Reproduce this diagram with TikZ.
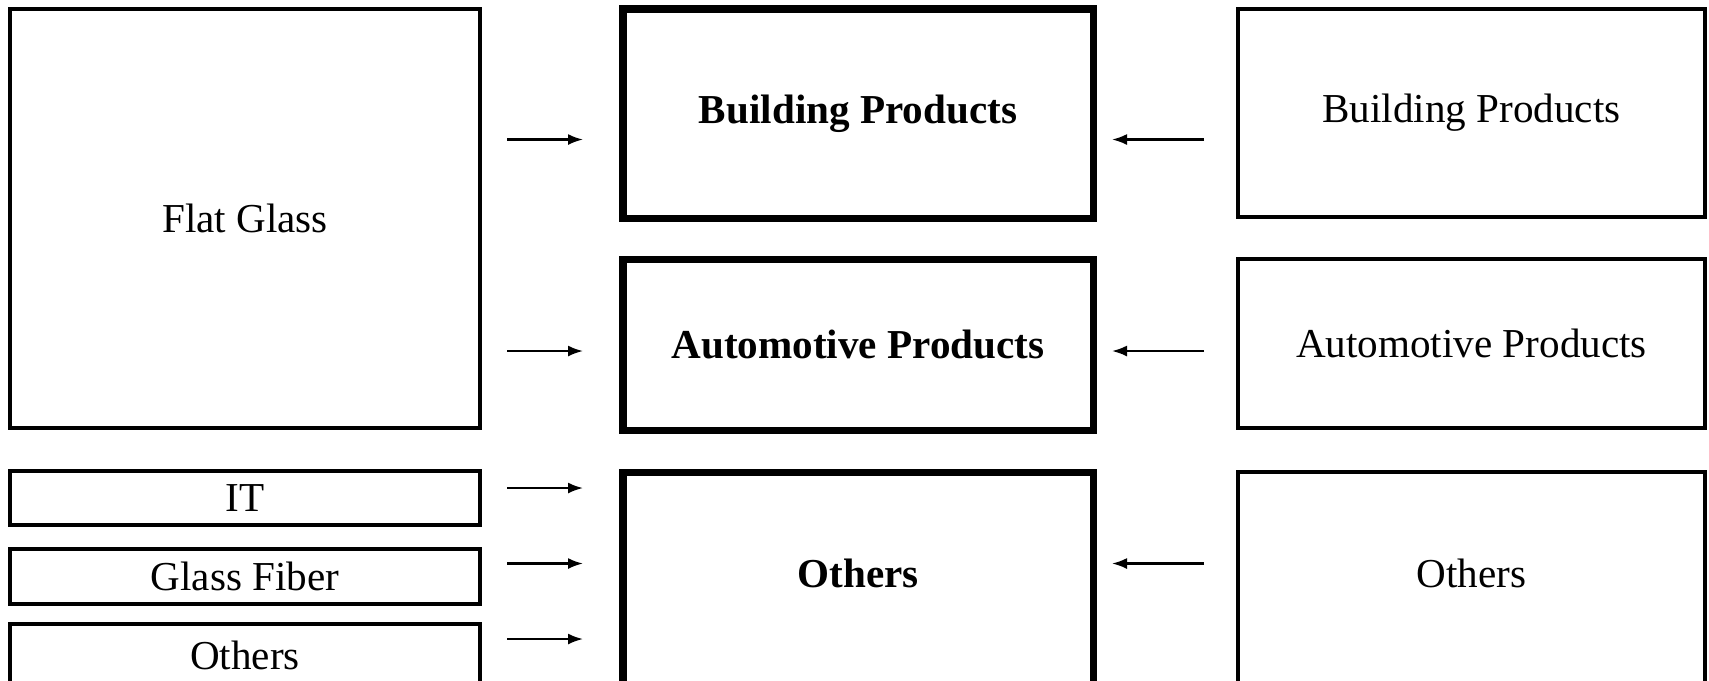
\documentclass[tikz,border=0pt]{standalone}
\usepackage{fontspec}
\setmainfont{Liberation Serif}
\usetikzlibrary{positioning,arrows.meta}

\tikzset{
  segbox/.style={draw, line width=1pt, minimum width=4.70cm, inner sep=0pt, outer sep=0pt,
    font=\fontsize{11.7}{14}\selectfont},
  midbox/.style={segbox, line width=2pt, font=\fontsize{11.7}{14}\selectfont\bfseries},
  flow/.style={-{Latex[length=0.15cm,width=0.11cm]}, line width=0.6pt},
}

\begin{document}
\begin{tikzpicture}
    \useasboundingbox (0,0) rectangle (17.09,-6.80);
    \clip (0,0) rectangle (17.09,-6.80);

    % Former segments
    \node[segbox, minimum height=4.19cm] (flat) at (2.45,-2.185) {Flat Glass};
    \node[segbox, minimum height=0.54cm] (it) at (2.45,-4.98) {IT};
    \node[segbox, minimum height=0.55cm] (fiber) at (2.45,-5.765) {Glass Fiber};
    \node[segbox, minimum height=0.62cm] (oldoth) at (2.45,-6.55) {Others};

    % New segments
    \node[midbox, minimum height=2.09cm] (newbld) at (8.58,-1.135) {Building Products};
    \node[midbox, minimum height=1.71cm] (newauto) at (8.58,-3.445) {Automotive Products};
    \node[midbox, minimum height=2.30cm] (newoth) at (8.58,-5.87) {};
    \node[font=\fontsize{11.7}{14}\selectfont\bfseries] (newothtxt) at (8.58,-5.73) {Others};

    % Business units
    \node[segbox, minimum width=4.67cm, minimum height=2.08cm] (unitbld) at (14.715,-1.13) {Building Products};
    \node[segbox, minimum width=4.67cm, minimum height=1.69cm] (unitauto) at (14.715,-3.435) {Automotive Products};
    \node[segbox, minimum width=4.67cm, minimum height=2.30cm] (unitoth) at (14.715,-5.87) {};
    \node[font=\fontsize{11.7}{14}\selectfont] (unitothtxt) at (14.715,-5.73) {Others};

    % Arrow levels
    \coordinate (lvl1) at (0,-1.395);
    \coordinate (lvl2) at (0,-3.51);
    \coordinate (lvl3) at (0,-4.88);
    \coordinate (lvl4) at (0,-5.635);
    \coordinate (lvl5) at (0,-6.39);

    % Left arrows
    \draw[flow, shorten <=0.27cm, shorten >=0.40cm] (flat.east |- lvl1) -- (newbld.west |- lvl1);
    \draw[flow, shorten <=0.27cm, shorten >=0.40cm] (flat.east |- lvl2) -- (newauto.west |- lvl2);
    \draw[flow, shorten <=0.27cm, shorten >=0.40cm] (it.east |- lvl3) -- (newoth.west |- lvl3);
    \draw[flow, shorten <=0.27cm, shorten >=0.40cm] (fiber.east |- lvl4) -- (newoth.west |- lvl4);
    \draw[flow, shorten <=0.27cm, shorten >=0.40cm] (oldoth.east |- lvl5) -- (newoth.west |- lvl5);

    % Right arrows
    \draw[flow, shorten <=0.34cm, shorten >=0.19cm] (unitbld.west |- lvl1) -- (newbld.east |- lvl1);
    \draw[flow, shorten <=0.34cm, shorten >=0.19cm] (unitauto.west |- lvl2) -- (newauto.east |- lvl2);
    \draw[flow, shorten <=0.34cm, shorten >=0.19cm] (unitoth.west |- lvl4) -- (newoth.east |- lvl4);

\end{tikzpicture}
\end{document}
